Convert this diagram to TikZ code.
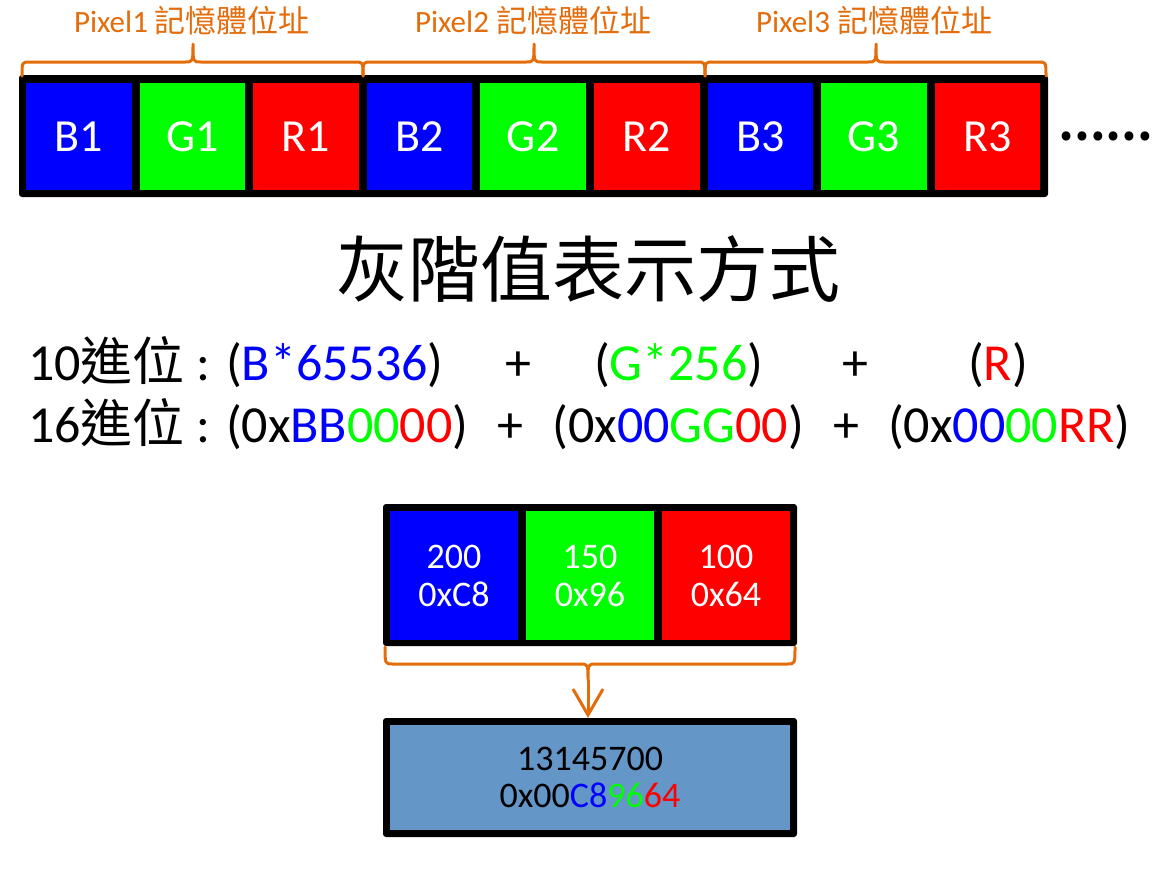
\documentclass[tikz,border=0pt]{standalone}
\usepackage{fontspec}
\setmainfont{Carlito}
\newfontfamily\cjk{Noto Sans CJK TC}
\usetikzlibrary{arrows.meta}
\definecolor{orng}{RGB}{228,108,10}
\definecolor{pb}{RGB}{0,0,255}
\definecolor{pg}{RGB}{0,255,0}
\definecolor{pr}{RGB}{255,0,0}
\definecolor{resfill}{RGB}{100,150,200}
\newcommand\wsp{\hspace{0.56em}}
\begin{document}
\begin{tikzpicture}[x=1pt,y=-1pt,
  every node/.style={inner sep=0pt, outer sep=0pt},
  frame/.style={fill=black, rounded corners=3pt, anchor=north west},
  cell/.style={anchor=north west, minimum width=105.5pt, minimum height=107pt, text=white, font=\fontsize{46}{54}\selectfont},
  scell/.style={anchor=north west, minimum width=128pt, minimum height=129pt, text=white, align=center, font=\fontsize{36}{38}\selectfont},
  brace/.style={draw=orng, line width=3pt, line join=round, line cap=round},
  arr/.style={draw=orng, line width=3pt, -{Straight Barb[length=26pt,width=30pt]}},
  lbl/.style={text=orng, anchor=base, font=\fontsize{31}{36}\selectfont},
  fml/.style={anchor=base west, font=\fontsize{52}{60}\selectfont},
  pls/.style={anchor=base, font=\fontsize{52}{60}\selectfont}]
\useasboundingbox[fill=white] (0,0) rectangle (1168,868);

% top memory bar
\node[frame, minimum width=1029pt, minimum height=122pt] (bar) at (19,75) {};
\node[cell, fill=pb] (b1) at (26,83) {B1};
\node[cell, fill=pg] (g1) at (139.6,83) {G1};
\node[cell, fill=pr] (r1) at (253.2,83) {R1};
\node[cell, fill=pb] (b2) at (366.8,83) {B2};
\node[cell, fill=pg] (g2) at (480.4,83) {G2};
\node[cell, fill=pr] (r2) at (594,83) {R2};
\node[cell, fill=pb] (b3) at (707.6,83) {B3};
\node[cell, fill=pg] (g3) at (821.2,83) {G3};
\node[cell, fill=pr] (r3) at (934.8,83) {R3};
\node[anchor=west, font=\cjk\bfseries\fontsize{42}{50}\selectfont] (dots) at (1058,136) {……};

% braces and labels
\draw[brace] (22,76) .. controls (22,62) .. (30,62) -- (185,62) .. controls (193,62) .. (193,44)
  .. controls (193,62) .. (201,62) -- (355,62) .. controls (363,62) .. (363,76);
\draw[brace] (363,76) .. controls (363,62) .. (371,62) -- (526,62) .. controls (534,62) .. (534,44)
  .. controls (534,62) .. (542,62) -- (697,62) .. controls (705,62) .. (705,76);
\draw[brace] (705,76) .. controls (705,62) .. (713,62) -- (868,62) .. controls (876,62) .. (876,44)
  .. controls (876,62) .. (884,62) -- (1038,62) .. controls (1046,62) .. (1046,76);
\node[lbl] (l1) at (192,32) {Pixel1 {\cjk 記憶體位址}};
\node[lbl] (l2) at (533,32) {Pixel2 {\cjk 記憶體位址}};
\node[lbl] (l3) at (874,32) {Pixel3 {\cjk 記憶體位址}};

% title
\node[anchor=base, font=\cjk\fontsize{72}{80}\selectfont] (title) at (588,296) {灰階值表示方式};

% formulas
\node[fml] (f1a) at (28,380) {10{\cjk 進位} : (\textcolor{pb}{B*65536})};
\node[pls] (f1b) at (518,380) {+};
\node[fml] (f1c) at (594,380) {(\textcolor{pg}{G*256})};
\node[pls] (f1d) at (855,380) {+};
\node[fml] (f1e) at (968,380) {(\textcolor{pr}{R})};
\node[fml] (f2) at (28,442) {16{\cjk 進位} : (0x\textcolor{pb}{BB}\textcolor{pg}{00}\textcolor{pr}{00})\wsp+\wsp(0x\textcolor{pb}{00}\textcolor{pg}{GG}\textcolor{pr}{00})\wsp+\wsp(0x\textcolor{pb}{00}\textcolor{pg}{00}\textcolor{pr}{RR})};

% example pixel
\node[frame, minimum width=414pt, minimum height=142pt] (pix) at (383,504) {};
\node[scell, fill=pb] (pb1) at (390,511) {200\\0xC8};
\node[scell, fill=pg] (pg1) at (526,511) {150\\0x96};
\node[scell, fill=pr] (pr1) at (662,511) {100\\0x64};

\draw[brace] (385,647) .. controls (385,664) .. (393,664) -- (580,664) .. controls (588,664) .. (588,680)
  .. controls (588,664) .. (596,664) -- (787,664) .. controls (795,664) .. (795,647);
\coordinate (btip) at (588,680);

% result
\node[frame, minimum width=414pt, minimum height=119pt] (resf) at (383,718) {};
\node[anchor=north west, fill=resfill, minimum width=400pt, minimum height=105pt, align=center, font=\fontsize{36}{37}\selectfont] (res) at (390,725) {13145700\\0x00\textcolor{pb}{C8}\textcolor{pg}{96}\textcolor{pr}{64}};
\draw[arr] (btip) -- (btip |- resf.north);
\end{tikzpicture}
\end{document}
